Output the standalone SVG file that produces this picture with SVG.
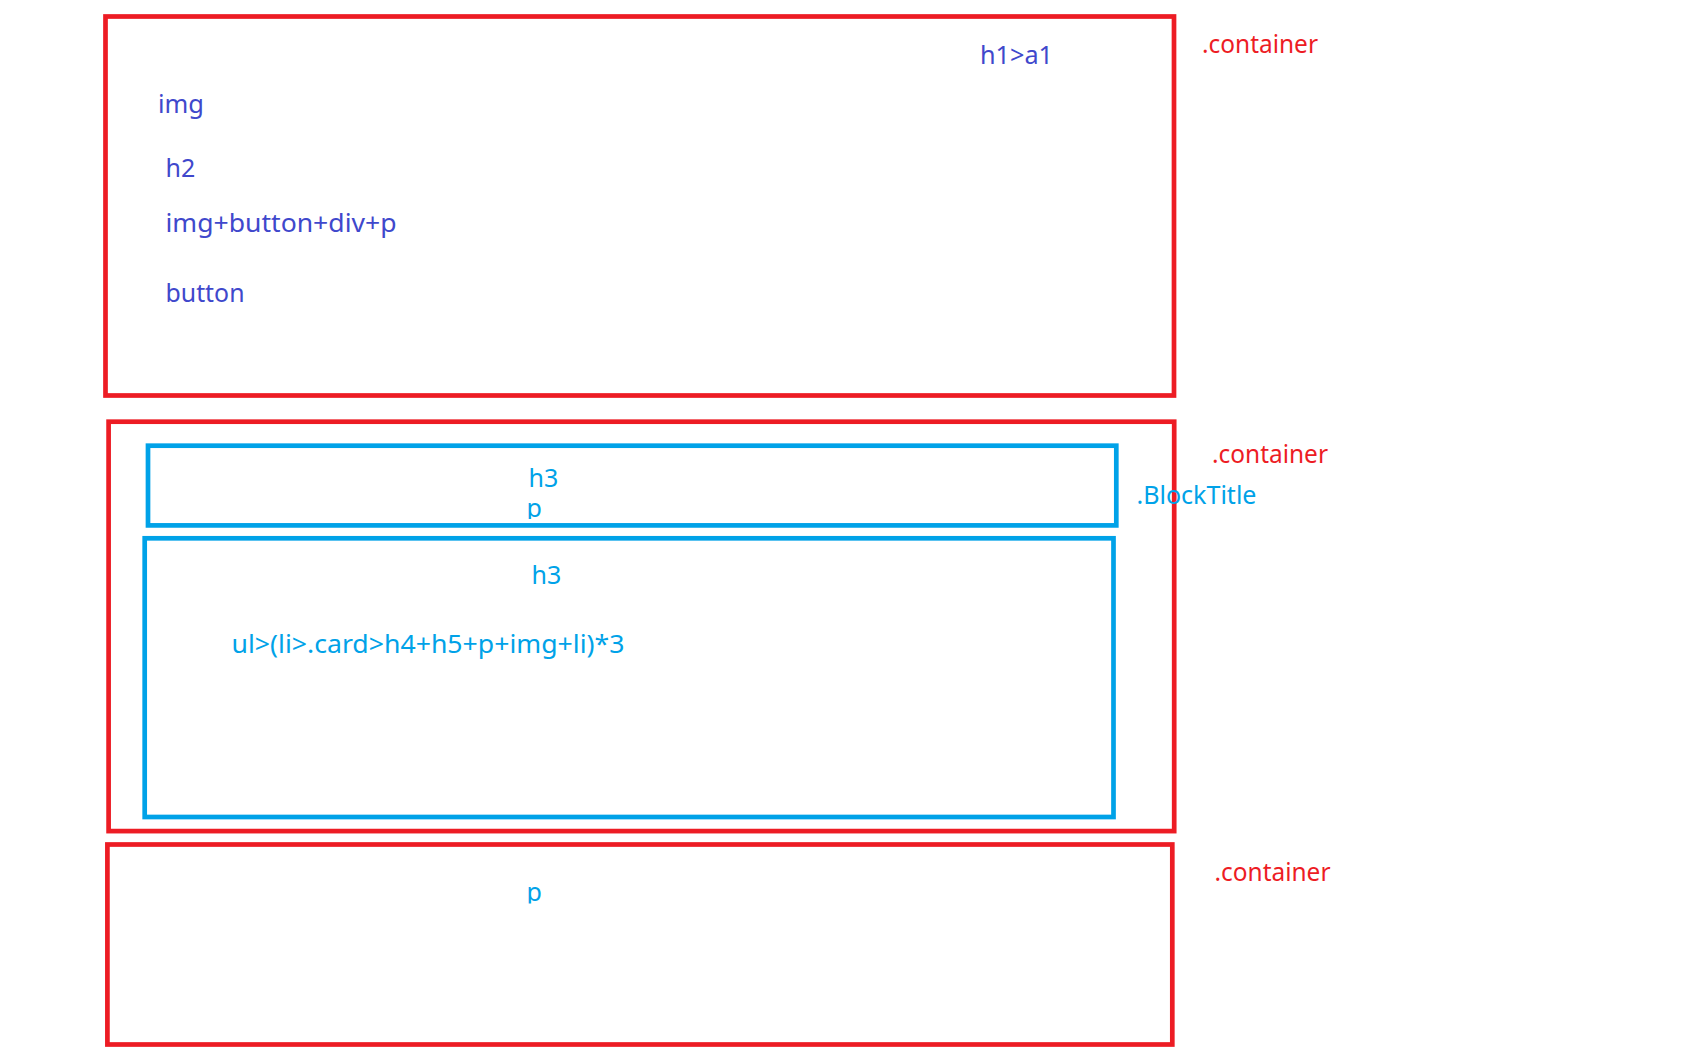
<svg xmlns="http://www.w3.org/2000/svg" width="1693" height="1064" viewBox="0 0 1693 1064">
  <style>
    .red { fill: none; stroke: #ED1C24; stroke-width: 4.7; }
    .blue { fill: none; stroke: #00A2E8; stroke-width: 4.7; }
    text { font-family: "Noto Sans", "Open Sans", "DejaVu Sans", sans-serif; font-size: 25px; }
    .t-ind { fill: #3F48CC; }
    .t-red { fill: #ED1C24; }
    .t-blue { fill: #00A2E8; }
  </style>
  <defs>
    <clipPath id="clip-title-p"><rect x="500" y="490" width="80" height="29"/></clipPath>
    <clipPath id="clip-footer-p"><rect x="500" y="870" width="80" height="33.5"/></clipPath>
  </defs>
  <rect width="1693" height="1064" fill="#ffffff"/>

  <!-- header container -->
  <g id="header">
    <rect class="red" x="105.5" y="16.5" width="1068.5" height="379"/>
    <text class="t-ind" x="980" y="64" textLength="73" lengthAdjust="spacingAndGlyphs">h1&gt;a1</text>
    <text class="t-ind" x="158" y="112.7" textLength="46" lengthAdjust="spacingAndGlyphs">img</text>
    <text class="t-ind" x="165.5" y="177.3">h2</text>
    <text class="t-ind" x="165.5" y="231.7" textLength="231" lengthAdjust="spacingAndGlyphs">img+button+div+p</text>
    <text class="t-ind" x="165.5" y="301.7" textLength="79" lengthAdjust="spacingAndGlyphs">button</text>
  </g>
  <text id="label-header" class="t-red" x="1202" y="52.7" textLength="116" lengthAdjust="spacingAndGlyphs">.container</text>

  <!-- main container -->
  <g id="main">
    <rect class="red" x="108.6" y="421.7" width="1065.6" height="409.4"/>
  </g>
  <text id="label-main" class="t-red" x="1212" y="463.3" textLength="116" lengthAdjust="spacingAndGlyphs">.container</text>

  <!-- block title -->
  <g id="block-title">
    <rect class="blue" x="148" y="445.7" width="968.3" height="79.7"/>
    <text class="t-blue" x="528.5" y="486.7">h3</text>
    <text class="t-blue" x="526.5" y="516.5" clip-path="url(#clip-title-p)">p</text>
  </g>
  <text id="label-blocktitle" class="t-blue" x="1136.5" y="504.3" textLength="120" lengthAdjust="spacingAndGlyphs">.BlockTitle</text>

  <!-- card list -->
  <g id="card-list">
    <rect class="blue" x="144.7" y="538.3" width="968.8" height="278.7"/>
    <text class="t-blue" x="531.5" y="584">h3</text>
    <text class="t-blue" x="231.5" y="652.7" textLength="393" lengthAdjust="spacingAndGlyphs">ul&gt;(li&gt;.card&gt;h4+h5+p+img+li)*3</text>
  </g>

  <!-- footer container -->
  <g id="footer">
    <rect class="red" x="107.4" y="844.5" width="1064.9" height="200"/>
    <text class="t-blue" x="526.5" y="901" clip-path="url(#clip-footer-p)">p</text>
  </g>
  <text id="label-footer" class="t-red" x="1214.5" y="880.7" textLength="116" lengthAdjust="spacingAndGlyphs">.container</text>
</svg>
